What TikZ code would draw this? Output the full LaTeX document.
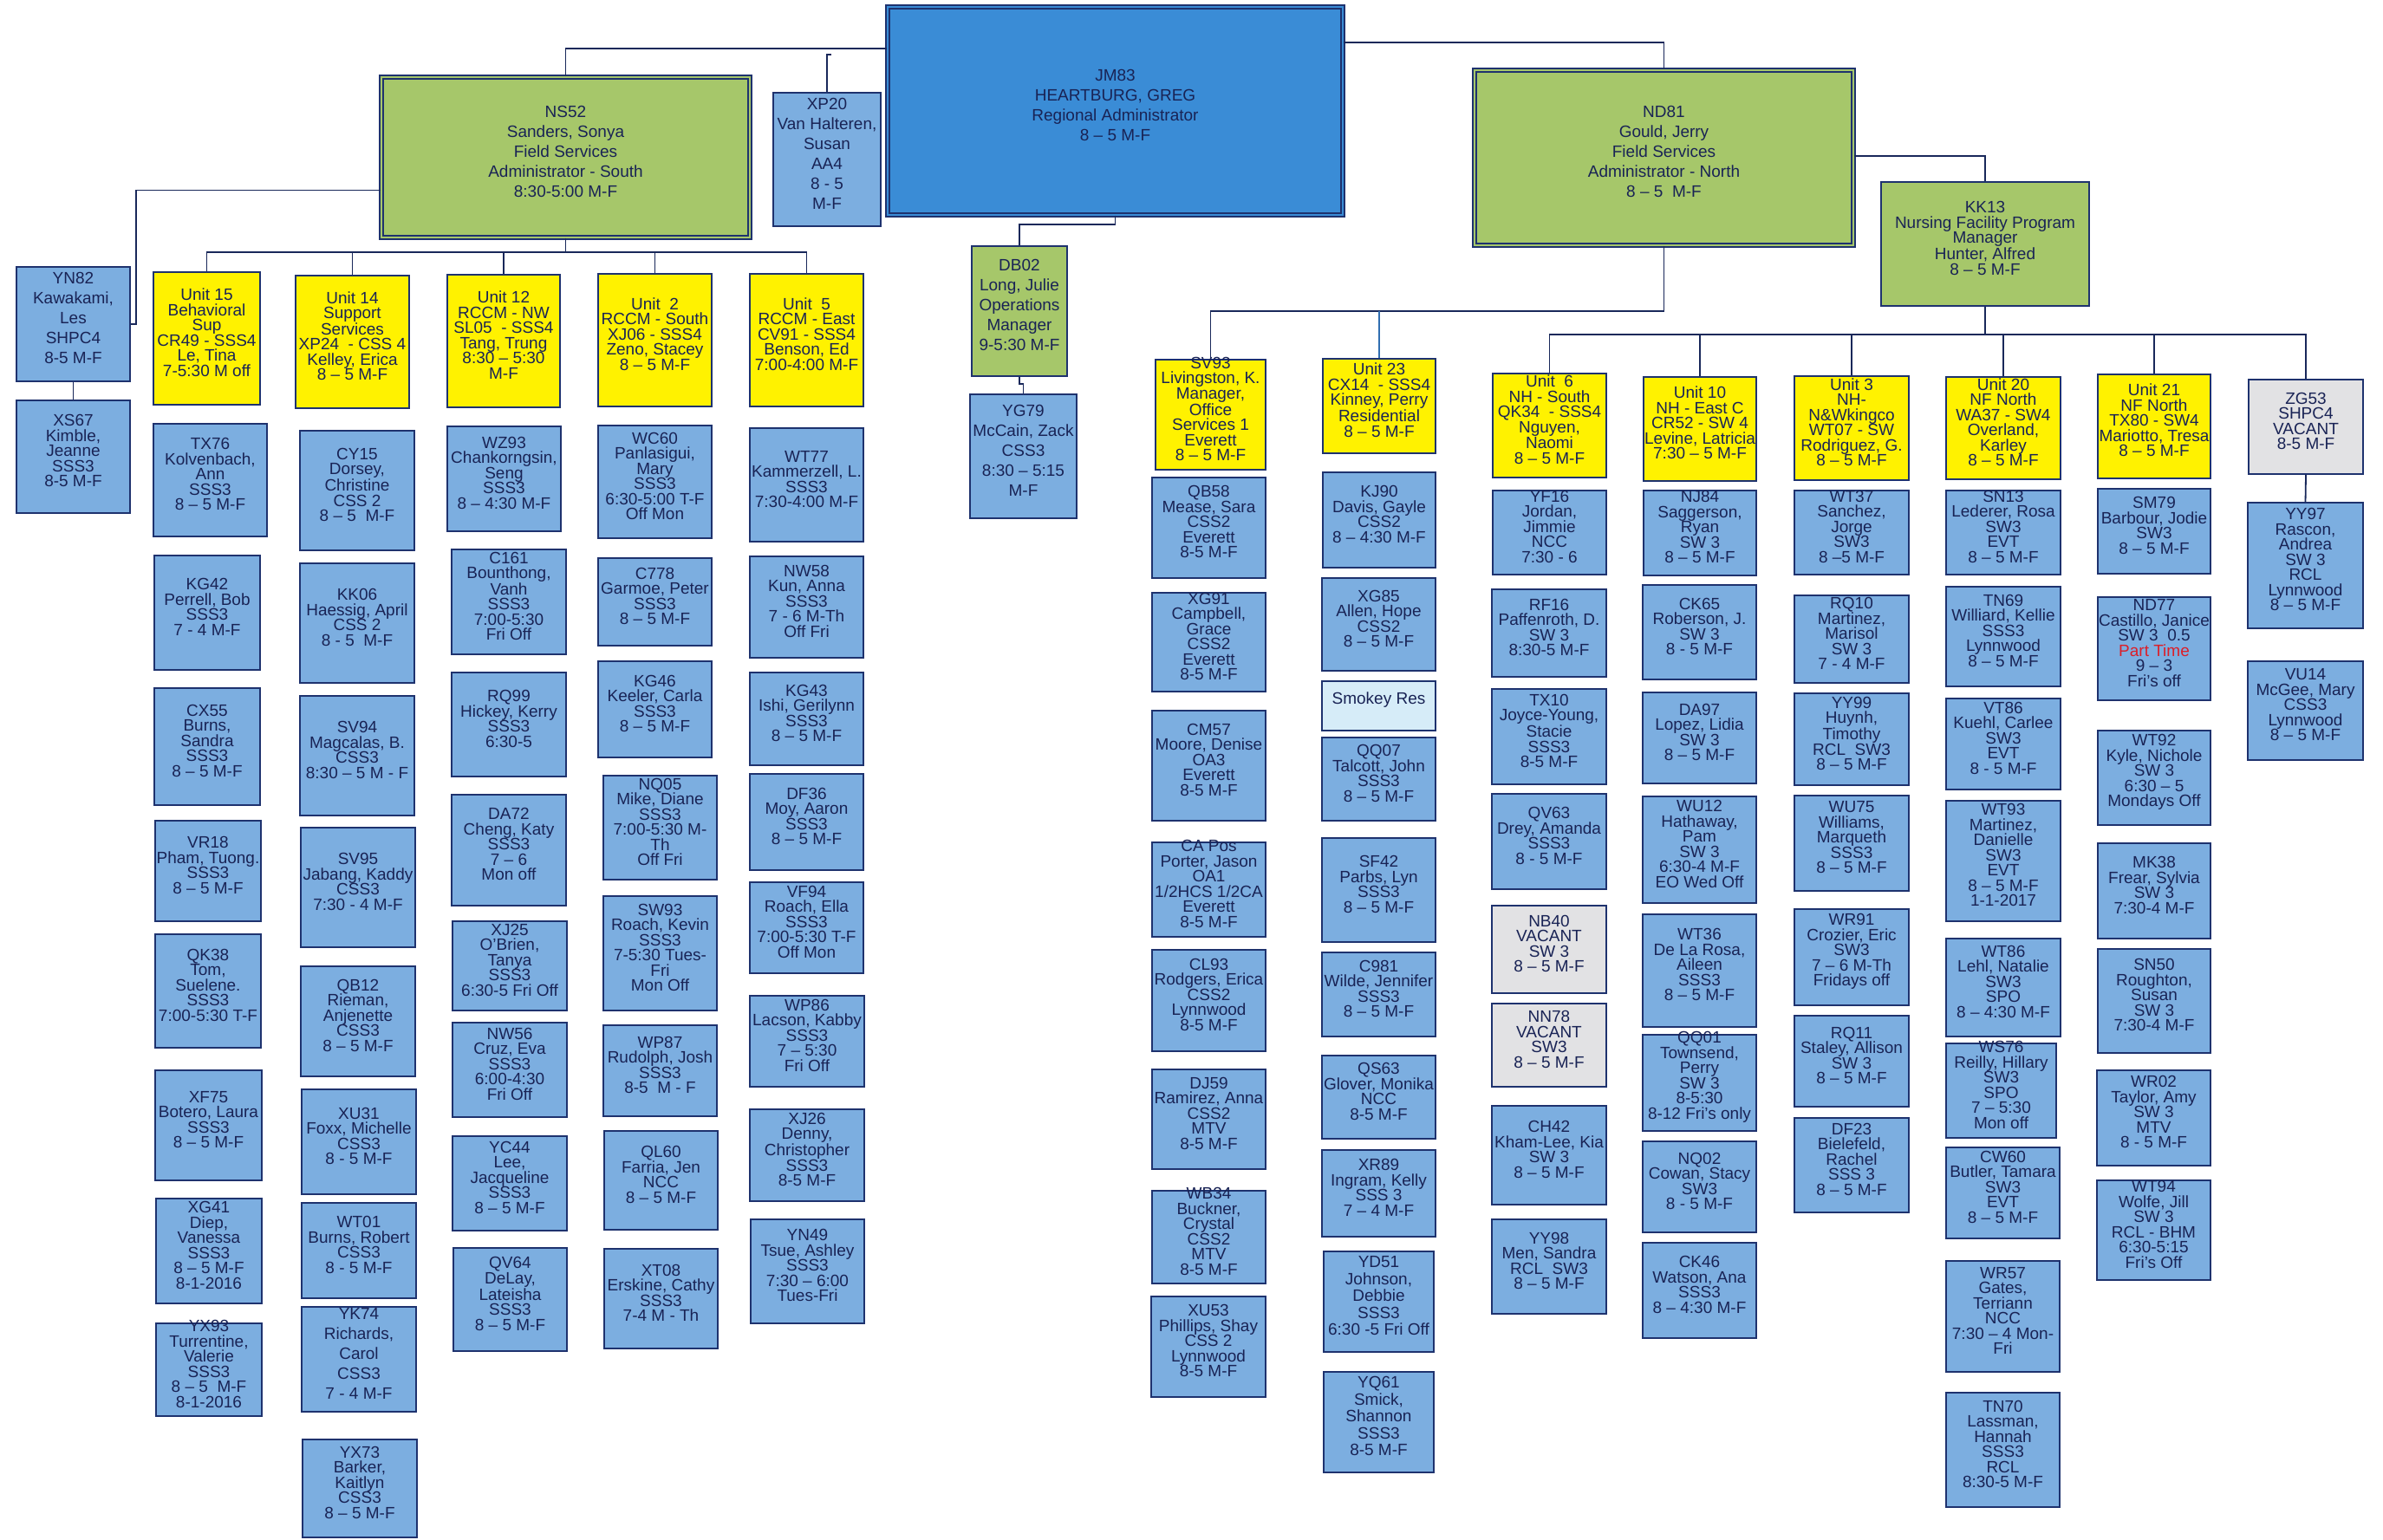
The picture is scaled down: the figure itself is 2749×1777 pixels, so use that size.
\documentclass[tikz,border=0pt]{standalone}
\usepackage{fontspec}
\setmainfont{Liberation Sans}
\usetikzlibrary{fit}

\definecolor{staffblue}{RGB}{124,174,224}
\definecolor{topblue}{RGB}{58,140,214}
\definecolor{headgreen}{RGB}{166,199,106}
\definecolor{unityellow}{RGB}{255,242,0}
\definecolor{vacantgrey}{RGB}{226,226,228}
\definecolor{smokeyblue}{RGB}{214,236,248}
\definecolor{cardline}{RGB}{30,50,110}
\definecolor{cardtext}{RGB}{25,35,85}
\definecolor{linkline}{RGB}{25,40,90}
\definecolor{parttime}{RGB}{220,30,40}

\tikzset{
	every card/.style={draw=cardline, line width=1.5pt, inner sep=0pt, align=center, text=cardtext},
	tight text/.style={font=\fontsize{19}{17.5}\selectfont},
	mid text/.style={font=\fontsize{19}{19.5}\selectfont},
	loose text/.style={font=\fontsize{19}{23}\selectfont},
	staff card/.style={every card, fill=staffblue, tight text},
	unit card/.style={every card, fill=unityellow, tight text},
	vacant card/.style={every card, fill=vacantgrey, tight text},
	head card/.style={every card, fill=headgreen},
	admin card/.style={head card, loose text, double=headgreen, double distance=2.5pt, line width=1.3pt},
	link/.style={draw=linkline, line width=1.8pt},
	thin link/.style={draw=topblue!70!linkline, line width=1.1pt},
}

\begin{document}
\lineskiplimit=-20pt
\begin{tikzpicture}[x=1pt, y=-1pt]
	\fill[white] (0,0) rectangle (2749,1777);
	\useasboundingbox (0,0) rectangle (2749,1777);
	% top of the chart
	\node[admin card, fill=topblue, double=topblue, fit={(1024,8) (1549,248)}] (JM83) {JM83\\HEARTBURG, GREG\\Regional Administrator\\8 – 5 M-F};
	\node[admin card, fit={(440,89) (865,274)}] (NS52) {NS52\\Sanders, Sonya\\Field Services\\Administrator - South\\8:30-5:00 M-F};
	\node[admin card, fit={(1701,81) (2138,283)}] (ND81) {ND81\\Gould, Jerry\\Field Services\\Administrator - North\\8 – 5 \ M-F};
	\node[staff card, loose text, fit={(892,107) (1016,261)}] (XP20) {XP20\\Van Halteren,\\Susan\\AA4\\8 - 5\\M-F};
	\node[head card, loose text, fit={(1121,284) (1231,434)}] (DB02) {DB02\\Long, Julie\\Operations\\Manager\\9-5:30 M-F};
	\node[staff card, loose text, fit={(1119,455) (1242,598)}] (YG79) {YG79\\McCain, Zack\\CSS3\\8:30 – 5:15\\M-F};
	\node[head card, tight text, fit={(2170,210) (2410,353)}] (KK13) {KK13\\Nursing Facility Program\\Manager\\Hunter, Alfred\\8 – 5 M-F};
	\node[staff card, loose text, fit={(19,308) (150,440)}] (YN82) {YN82\\Kawakami,\\Les\\SHPC4\\8-5 M-F};
	\node[staff card, fit={(19,462) (150,592)}] (XS67) {XS67\\Kimble,\\Jeanne\\SSS3\\8-5 M-F};

	% units, south
	\node[unit card, fit={(177,314) (300,467)}] (unit 15) {Unit 15\\Behavioral\\Sup\\CR49 - SSS4\\Le, Tina\\7-5:30 M off};
	\node[unit card, fit={(341,318) (472,471)}] (unit 14) {Unit 14\\Support\\Services\\XP24 \ - CSS 4\\Kelley, Erica\\8 – 5 M-F};
	\node[unit card, fit={(516,317) (646,470)}] (unit 12) {Unit 12\\RCCM - NW\\SL05 \ - SSS4\\Tang, Trung\\8:30 – 5:30\\M-F};
	\node[unit card, fit={(690,316) (821,469)}] (unit 2) {Unit \ 2\\RCCM - South\\XJ06 - SSS4\\Zeno, Stacey\\8 – 5 M-F};
	\node[unit card, fit={(865,316) (996,469)}] (unit 5) {Unit \ 5\\RCCM - East\\CV91 - SSS4\\Benson, Ed\\7:00-4:00 M-F};

	% units, north
	\node[unit card, fit={(1333,415) (1460,542)}] (SV93) {SV93\\Livingston, K.\\Manager,\\Office\\Services 1\\Everett\\8 – 5 M-F};
	\node[unit card, fit={(1526,414) (1656,523)}] (unit 23) {Unit 23\\CX14 \ - SSS4\\Kinney, Perry\\Residential\\8 – 5 M-F};
	\node[unit card, fit={(1722,431) (1853,551)}] (unit 6) {Unit \ 6\\NH - South\\QK34 \ - SSS4\\Nguyen,\\Naomi\\8 – 5 M-F};
	\node[unit card, fit={(1896,435) (2026,555)}] (unit 10) {Unit 10\\NH - East C\\CR52 - SW 4\\Levine, Latricia\\7:30 – 5 M-F};
	\node[unit card, fit={(2070,434) (2202,554)}] (unit 3) {Unit 3\\NH-\\N\&Wkingco\\WT07 - SW\\Rodriguez, G.\\8 – 5 M-F};
	\node[unit card, fit={(2245,435) (2377,553)}] (unit 20) {Unit 20\\NF North\\WA37 - SW4\\Overland,\\Karley\\8 – 5 M-F};
	\node[unit card, fit={(2420,432) (2550,552)}] (unit 21) {Unit 21\\NF North\\TX80 - SW4\\Mariotto, Tresa\\8 – 5 M-F};
	\node[vacant card, fit={(2594,438) (2726,547)}] (ZG53) {ZG53\\SHPC4\\VACANT\\8-5 M-F};

	% unit 15
	\node[staff card, fit={(177,489) (308,619)}] (TX76) {TX76\\Kolvenbach,\\Ann\\SSS3\\8 – 5 M-F};
	\node[staff card, fit={(178,641) (300,773)}] (KG42) {KG42\\Perrell, Bob\\SSS3\\7 - 4 M-F};
	\node[staff card, fit={(178,794) (300,929)}] (CX55) {CX55\\Burns,\\Sandra\\SSS3\\8 – 5 M-F};
	\node[staff card, fit={(179,947) (301,1063)}] (VR18) {VR18\\Pham, Tuong.\\SSS3\\8 – 5 M-F};
	\node[staff card, fit={(179,1078) (301,1209)}] (QK38) {QK38\\Tom,\\Suelene.\\SSS3\\7:00-5:30 T-F};
	\node[staff card, fit={(179,1235) (302,1362)}] (XF75) {XF75\\Botero, Laura\\SSS3\\8 – 5 M-F};
	\node[staff card, fit={(180,1383) (302,1504)}] (XG41) {XG41\\Diep,\\Vanessa\\SSS3\\8 – 5 M-F\\8-1-2016};
	\node[staff card, fit={(180,1527) (302,1634)}] (YX93) {YX93\\Turrentine,\\Valerie\\SSS3\\8 – 5 \ M-F\\8-1-2016};

	% unit 14
	\node[staff card, fit={(346,497) (478,635)}] (CY15) {CY15\\Dorsey,\\Christine\\CSS 2\\8 – 5 \ M-F};
	\node[staff card, fit={(346,650) (478,788)}] (KK06) {KK06\\Haessig, April\\CSS 2\\8 - 5 \ M-F};
	\node[staff card, fit={(346,803) (478,941)}] (SV94) {SV94\\Magcalas, B.\\CSS3\\8:30 – 5 M - F};
	\node[staff card, fit={(347,955) (479,1093)}] (SV95) {SV95\\Jabang, Kaddy\\CSS3\\7:30 - 4 M-F};
	\node[staff card, fit={(347,1115) (479,1242)}] (QB12) {QB12\\Rieman,\\Anjenette\\CSS3\\8 – 5 M-F};
	\node[staff card, fit={(348,1257) (480,1378)}] (XU31) {XU31\\Foxx, Michelle\\CSS3\\8 - 5 M-F};
	\node[staff card, fit={(348,1388) (480,1498)}] (WT01) {WT01\\Burns, Robert\\CSS3\\8 - 5 M-F};
	\node[staff card, loose text, line width=2.2pt, fit={(348,1508) (480,1629)}] (YK74) {YK74\\Richards,\\Carol\\CSS3\\7 - 4 M-F};
	\node[staff card, fit={(349,1661) (481,1774)}] (YX73) {YX73\\Barker,\\Kaitlyn\\CSS3\\8 – 5 M-F};

	% unit 12
	\node[staff card, fit={(516,492) (647,613)}] (WZ93) {WZ93\\Chankorngsin,\\Seng\\SSS3\\8 – 4:30 M-F};
	\node[staff card, fit={(521,634) (653,755)}] (C161) {C161\\Bounthong,\\Vanh\\SSS3\\7:00-5:30\\Fri Off};
	\node[staff card, fit={(521,776) (653,896)}] (RQ99) {RQ99\\Hickey, Kerry\\SSS3\\6:30-5};
	\node[staff card, fit={(521,917) (653,1045)}] (DA72) {DA72\\Cheng, Katy\\SSS3\\7 – 6\\Mon off};
	\node[staff card, fit={(522,1063) (654,1166)}] (XJ25) {XJ25\\O'Brien,\\Tanya\\SSS3\\6:30-5 Fri Off};
	\node[staff card, fit={(522,1180) (654,1289)}] (NW56) {NW56\\Cruz, Eva\\SSS3\\6:00-4:30\\Fri Off};
	\node[staff card, fit={(522,1311) (654,1420)}] (YC44) {YC44\\Lee,\\Jacqueline\\SSS3\\8 – 5 M-F};
	\node[staff card, fit={(523,1440) (654,1559)}] (QV64) {QV64\\DeLay,\\Lateisha\\SSS3\\8 – 5 M-F};

	% unit 2
	\node[staff card, fit={(690,491) (821,621)}] (WC60) {WC60\\Panlasigui,\\Mary\\SSS3\\6:30-5:00 T-F\\Off Mon};
	\node[staff card, fit={(690,644) (821,745)}] (C778) {C778\\Garmoe, Peter\\SSS3\\8 – 5 M-F};
	\node[staff card, fit={(690,763) (821,874)}] (KG46) {KG46\\Keeler, Carla\\SSS3\\8 – 5 M-F};
	\node[staff card, fit={(696,895) (827,1015)}] (NQ05) {NQ05\\Mike, Diane\\SSS3\\7:00-5:30 M-\\Th\\Off Fri};
	\node[staff card, fit={(696,1034) (827,1166)}] (SW93) {SW93\\Roach, Kevin\\SSS3\\7-5:30 Tues-\\Fri\\Mon Off};
	\node[staff card, fit={(696,1183) (827,1288)}] (WP87) {WP87\\Rudolph, Josh\\SSS3\\8-5 \ M - F};
	\node[staff card, fit={(697,1305) (828,1419)}] (QL60) {QL60\\Farria, Jen\\NCC\\8 – 5 M-F};
	\node[staff card, fit={(697,1441) (828,1556)}] (XT08) {XT08\\Erskine, Cathy\\SSS3\\7-4 M - Th};

	% unit 5
	\node[staff card, fit={(865,494) (996,625)}] (WT77) {WT77\\Kammerzell, L.\\SSS3\\7:30-4:00 M-F};
	\node[staff card, fit={(865,642) (996,759)}] (NW58) {NW58\\Kun, Anna\\SSS3\\7 - 6 M-Th\\Off Fri};
	\node[staff card, fit={(865,776) (996,883)}] (KG43) {KG43\\Ishi, Gerilynn\\SSS3\\8 – 5 M-F};
	\node[staff card, fit={(865,893) (996,1004)}] (DF36) {DF36\\Moy, Aaron\\SSS3\\8 – 5 M-F};
	\node[staff card, fit={(865,1018) (996,1123)}] (VF94) {VF94\\Roach, Ella\\SSS3\\7:00-5:30 T-F\\Off Mon};
	\node[staff card, fit={(865,1149) (997,1254)}] (WP86) {WP86\\Lacson, Kabby\\SSS3\\7 – 5:30\\Fri Off};
	\node[staff card, fit={(865,1280) (997,1386)}] (XJ26) {XJ26\\Denny,\\Christopher\\SSS3\\8-5 M-F};
	\node[staff card, fit={(866,1407) (997,1527)}] (YN49) {YN49\\Tsue, Ashley\\SSS3\\7:30 – 6:00\\Tues-Fri};

	% office services
	\node[staff card, fit={(1329,551) (1460,667)}] (QB58) {QB58\\Mease, Sara\\CSS2\\Everett\\8-5 M-F};
	\node[staff card, fit={(1329,684) (1460,798)}] (XG91) {XG91\\Campbell,\\Grace\\CSS2\\Everett\\8-5 M-F};
	\node[staff card, fit={(1329,820) (1460,947)}] (CM57) {CM57\\Moore, Denise\\OA3\\Everett\\8-5 M-F};
	\node[staff card, fit={(1329,972) (1460,1081)}] (CApos) {CA Pos\\Porter, Jason\\OA1\\1/2HCS 1/2CA\\Everett\\8-5 M-F};
	\node[staff card, fit={(1329,1096) (1460,1213)}] (CL93) {CL93\\Rodgers, Erica\\CSS2\\Lynnwood\\8-5 M-F};
	\node[staff card, fit={(1329,1234) (1460,1349)}] (DJ59) {DJ59\\Ramirez, Anna\\CSS2\\MTV\\8-5 M-F};
	\node[staff card, fit={(1329,1374) (1460,1481)}] (WB34) {WB34\\Buckner,\\Crystal\\CSS2\\MTV\\8-5 M-F};
	\node[staff card, fit={(1328,1496) (1460,1612)}] (XU53) {XU53\\Phillips, Shay\\CSS 2\\Lynnwood\\8-5 M-F};

	% unit 23
	\node[staff card, fit={(1526,545) (1656,655)}] (KJ90) {KJ90\\Davis, Gayle\\CSS2\\8 – 4:30 M-F};
	\node[staff card, fit={(1525,667) (1656,774)}] (XG85) {XG85\\Allen, Hope\\CSS2\\8 – 5 M-F};
	\node[staff card, fill=smokeyblue, fit={(1525,786) (1656,843)}] (smokey) {Smokey Res};
	\node[staff card, fit={(1525,851) (1656,947)}] (QQ07) {QQ07\\Talcott, John\\SSS3\\8 – 5 M-F};
	\node[staff card, fit={(1525,967) (1656,1087)}] (SF42) {SF42\\Parbs, Lyn\\SSS3\\8 – 5 M-F};
	\node[staff card, fit={(1525,1099) (1656,1196)}] (C981) {C981\\Wilde, Jennifer\\SSS3\\8 – 5 M-F};
	\node[staff card, fit={(1525,1218) (1656,1314)}] (QS63) {QS63\\Glover, Monika\\NCC\\8-5 M-F};
	\node[staff card, fit={(1525,1327) (1656,1427)}] (XR89) {XR89\\Ingram, Kelly\\SSS 3\\7 – 4 M-F};
	\node[staff card, mid text, fit={(1527,1444) (1654,1560)}] (YD51) {YD51\\Johnson,\\Debbie\\SSS3\\6:30 -5 Fri Off};
	\node[staff card, mid text, fit={(1527,1583) (1654,1699)}] (YQ61) {YQ61\\Smick,\\Shannon\\SSS3\\8-5 M-F};

	% unit 6
	\node[staff card, fit={(1722,566) (1853,663)}] (YF16) {YF16\\Jordan,\\Jimmie\\NCC\\7:30 - 6};
	\node[staff card, fit={(1721,680) (1853,781)}] (RF16) {RF16\\Paffenroth, D.\\SW 3\\8:30-5 M-F};
	\node[staff card, fit={(1721,795) (1853,905)}] (TX10) {TX10\\Joyce-Young,\\Stacie\\SSS3\\8-5 M-F};
	\node[staff card, fit={(1721,916) (1853,1026)}] (QV63) {QV63\\Drey, Amanda\\SSS3\\8 - 5 M-F};
	\node[vacant card, fit={(1721,1045) (1853,1146)}] (NB40) {NB40\\VACANT\\SW 3\\8 – 5 M-F};
	\node[vacant card, fit={(1721,1158) (1853,1254)}] (NN78) {NN78\\VACANT\\SW3\\8 – 5 M-F};
	\node[staff card, fit={(1721,1276) (1853,1390)}] (CH42) {CH42\\Kham-Lee, Kia\\SW 3\\8 – 5 M-F};
	\node[staff card, fit={(1721,1407) (1853,1516)}] (YY98) {YY98\\Men, Sandra\\RCL \ SW3\\8 – 5 M-F};

	% unit 10
	\node[staff card, fit={(1896,566) (2026,664)}] (NJ84) {NJ84\\Saggerson,\\Ryan\\SW 3\\8 – 5 M-F};
	\node[staff card, fit={(1895,675) (2026,784)}] (CK65) {CK65\\Roberson, J.\\SW 3\\8 - 5 M-F};
	\node[staff card, fit={(1895,799) (2026,904)}] (DA97) {DA97\\Lopez, Lidia\\SW 3\\8 – 5 M-F};
	\node[staff card, fit={(1895,919) (2026,1042)}] (WU12) {WU12\\Hathaway,\\Pam\\SW 3\\6:30-4 M-F\\EO Wed Off};
	\node[staff card, fit={(1895,1055) (2026,1185)}] (WT36) {WT36\\De La Rosa,\\Aileen\\SSS3\\8 – 5 M-F};
	\node[staff card, fit={(1895,1194) (2026,1305)}] (QQ01) {QQ01\\Townsend,\\Perry\\SW 3\\8-5:30\\8-12 Fri's only};
	\node[staff card, fit={(1895,1317) (2026,1422)}] (NQ02) {NQ02\\Cowan, Stacy\\SW3\\8 - 5 M-F};
	\node[staff card, fit={(1895,1434) (2026,1544)}] (CK46) {CK46\\Watson, Ana\\SSS3\\8 – 4:30 M-F};

	% unit 3
	\node[staff card, fit={(2070,566) (2202,663)}] (WT37) {WT37\\Sanchez,\\Jorge\\SW3\\8 –5 M-F};
	\node[staff card, fit={(2070,687) (2202,788)}] (RQ10) {RQ10\\Martinez,\\Marisol\\SW 3\\7 - 4 M-F};
	\node[staff card, fit={(2070,800) (2202,906)}] (YY99) {YY99\\Huynh,\\Timothy\\RCL \ SW3\\8 – 5 M-F};
	\node[staff card, fit={(2070,918) (2202,1028)}] (WU75) {WU75\\Williams,\\Marqueth\\SSS3\\8 – 5 M-F};
	\node[staff card, fit={(2070,1049) (2202,1160)}] (WR91) {WR91\\Crozier, Eric\\SW3\\7 – 6 M-Th\\Fridays off};
	\node[staff card, fit={(2070,1172) (2202,1277)}] (RQ11) {RQ11\\Staley, Allison\\SW 3\\8 – 5 M-F};
	\node[staff card, fit={(2070,1290) (2202,1399)}] (DF23) {DF23\\Bielefeld,\\Rachel\\SSS 3\\8 – 5 M-F};

	% unit 20
	\node[staff card, fit={(2245,566) (2377,663)}] (SN13) {SN13\\Lederer, Rosa\\SW3\\EVT\\8 – 5 M-F};
	\node[staff card, fit={(2245,677) (2377,792)}] (TN69) {TN69\\Williard, Kellie\\SSS3\\Lynnwood\\8 – 5 M-F};
	\node[staff card, fit={(2245,806) (2377,911)}] (VT86) {VT86\\Kuehl, Carlee\\SW3\\EVT\\8 - 5 M-F};
	\node[staff card, fit={(2245,924) (2377,1063)}] (WT93) {WT93\\Martinez,\\Danielle\\SW3\\EVT\\8 – 5 M-F\\1-1-2017};
	\node[staff card, fit={(2245,1083) (2377,1196)}] (WT86) {WT86\\Lehl, Natalie\\SW3\\SPO\\8 – 4:30 M-F};
	\node[staff card, fit={(2245,1204) (2372,1313)}] (WS76) {WS76\\Reilly, Hillary\\SW3\\SPO\\7 – 5:30\\Mon off};
	\node[staff card, fit={(2245,1324) (2376,1429)}] (CW60) {CW60\\Butler, Tamara\\SW3\\EVT\\8 – 5 M-F};
	\node[staff card, fit={(2245,1455) (2376,1583)}] (WR57) {WR57\\Gates,\\Terriann\\NCC\\7:30 – 4 Mon-\\Fri};
	\node[staff card, fit={(2245,1607) (2376,1739)}] (TN70) {TN70\\Lassman,\\Hannah\\SSS3\\RCL\\8:30-5 M-F};

	% unit 21
	\node[staff card, fit={(2420,564) (2550,662)}] (SM79) {SM79\\Barbour, Jodie\\SW3\\8 – 5 M-F};
	\node[staff card, fit={(2420,689) (2550,808)}] (ND77) {ND77\\Castillo, Janice\\SW 3 \ 0.5\\{\color{parttime}Part Time}\\9 – 3\\Fri's off};
	\node[staff card, fit={(2420,843) (2550,952)}] (WT92) {WT92\\Kyle, Nichole\\SW 3\\6:30 – 5\\Mondays Off};
	\node[staff card, fit={(2420,973) (2550,1083)}] (MK38) {MK38\\Frear, Sylvia\\SW 3\\7:30-4 M-F};
	\node[staff card, fit={(2420,1095) (2550,1215)}] (SN50) {SN50\\Roughton,\\Susan\\SW 3\\7:30-4 M-F};
	\node[staff card, fit={(2419,1235) (2550,1345)}] (WR02) {WR02\\Taylor, Amy\\SW 3\\MTV\\8 - 5 M-F};
	\node[staff card, fit={(2419,1362) (2550,1477)}] (WT94) {WT94\\Wolfe, Jill\\SW 3\\RCL - BHM\\6:30-5:15\\Fri's Off};

	% vacant SHPC4
	\node[staff card, fit={(2593,580) (2726,725)}] (YY97) {YY97\\Rascon,\\Andrea\\SW 3\\RCL\\Lynnwood\\8 – 5 M-F};
	\node[staff card, fit={(2593,763) (2726,877)}] (VU14) {VU14\\McGee, Mary\\CSS3\\Lynnwood\\8 – 5 M-F};

	% connectors
	\draw[link] ([yshift=72pt]JM83.west) -| (NS52.north);
	\draw[link] ([yshift=79pt]JM83.east) -| (ND81.north);
	\draw[link] (XP20.north) -- ++(0,-43) -- ++(5,0);
	\draw[link] (JM83.south) -- ++(0,10) -| (DB02.north);
	\draw[link] (DB02.south) -- ++(0,8) -| (YG79.north);
	\draw[link] ([yshift=-38pt]NS52.west) -- ++(-282,0) |- (YN82.east);
	\draw[link] (YN82.south) -- (XS67.north);
	\draw[link] (NS52.south) -- ++(0,16) coordinate (south bus);
	\draw[link] (south bus) -| (unit 15.north) (south bus) -| (unit 14.north) (south bus) -| (unit 12.north)
		(south bus) -| (unit 2.north) (south bus) -| (unit 5.north);
	\draw[link] (ND81.south) -- ++(0,75) coordinate (north bus);
	\draw[link] (north bus) -| (SV93.north);
	\draw[thin link] (unit 23.north |- north bus) -- (unit 23.north);
	\draw[link] ([yshift=2pt]ND81.east) -| (KK13.north);
	\draw[link] (KK13.south) -- ++(0,32) coordinate (nf bus);
	\draw[link] (nf bus) -| (unit 6.north) (nf bus) -| (unit 10.north) (nf bus) -| (unit 3.north)
		(nf bus) -| (unit 20.north) (nf bus) -| (unit 21.north) (nf bus) -| (ZG53.north);
	\draw[link] (ZG53.south) -- (YY97.north);
\end{tikzpicture}
\end{document}
